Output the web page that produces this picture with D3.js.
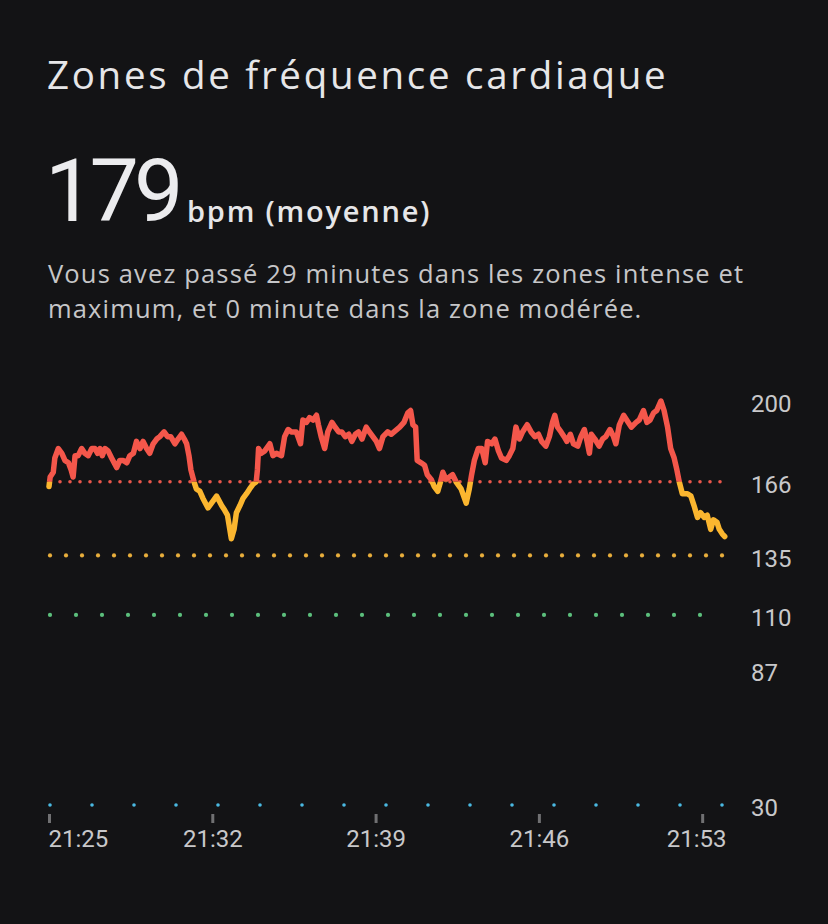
<!DOCTYPE html>
<html lang="fr">
<head>
<meta charset="utf-8">
<title>Zones de fréquence cardiaque</title>
<script src="https://cdn.jsdelivr.net/npm/d3@7"></script>
<style>
  html, body { margin: 0; padding: 0; background: #131315; }
  svg { display: block; }
</style>
</head>
<body>
<div id="chart"></div>
<script>
// ── Data ────────────────────────────────────────────────────────────────
var START_TIME = "21:25";
var END_SECONDS = 1740;

// seconds since 21:25, heart rate in bpm
var HR_SEC = [0, 3, 11, 15, 24, 33, 41, 50, 57, 62, 67, 75, 84, 92, 101, 110, 118, 125, 131, 137,
  144, 152, 161, 174, 182, 191, 200, 208, 217, 225, 234, 242, 251, 259, 268, 277, 285, 296, 305, 313,
  324, 332, 341, 348, 354, 360, 365, 373, 379, 388, 396, 409, 418, 431, 444, 452, 459, 465, 469, 476,
  482, 491, 499, 508, 516, 525, 533, 536, 539, 546, 555, 568, 576, 585, 598, 606, 615, 623, 636, 647,
  653, 662, 670, 679, 688, 693, 700, 709, 717, 728, 736, 745, 753, 762, 771, 779, 788, 796, 805, 816,
  824, 833, 842, 850, 859, 871, 880, 902, 913, 923, 930, 936, 943, 947, 957, 966, 973, 983, 991, 1000,
  1007, 1013, 1021, 1030, 1038, 1047, 1060, 1073, 1081, 1087, 1094, 1104, 1113, 1122, 1128, 1139, 1147, 1156, 1164, 1176,
  1184, 1193, 1201, 1210, 1218, 1230, 1240, 1250, 1259, 1267, 1278, 1287, 1295, 1301, 1308, 1317, 1325, 1332, 1341, 1349,
  1360, 1368, 1377, 1384, 1390, 1395, 1404, 1415, 1424, 1432, 1443, 1452, 1458, 1467, 1478, 1490, 1498, 1510, 1518, 1529,
  1538, 1546, 1555, 1563, 1574, 1582, 1591, 1599, 1608, 1615, 1621, 1629, 1642, 1651, 1659, 1668, 1676, 1685, 1693, 1702,
  1709, 1718, 1724, 1732, 1738];
var HR_BPM = [164, 168, 170, 176, 180, 178, 175, 174, 171, 168, 177, 177, 180, 178, 177, 180, 180, 178, 180, 177,
  180, 179, 176, 172, 175, 175, 174, 177, 178, 183, 180, 183, 180, 178, 182, 184, 185, 187, 185, 185,
  182, 184, 186, 184, 182, 177, 171, 166, 163, 162, 159, 155, 157, 160, 156, 154, 152, 146, 142, 146,
  153, 156, 159, 161, 163, 165, 166, 171, 180, 178, 179, 182, 177, 178, 177, 185, 188, 187, 187, 182,
  192, 191, 193, 192, 194, 190, 185, 180, 187, 191, 189, 187, 187, 185, 186, 183, 186, 187, 184, 189,
  187, 185, 183, 180, 185, 187, 186, 189, 191, 195, 196, 190, 189, 175, 174, 173, 169, 167, 164, 162,
  166, 170, 167, 168, 169, 166, 163, 157, 163, 169, 175, 180, 180, 174, 183, 182, 184, 179, 176, 175,
  177, 180, 189, 184, 187, 190, 187, 185, 186, 183, 181, 185, 191, 194, 189, 187, 185, 183, 186, 182,
  181, 185, 188, 183, 178, 186, 184, 181, 184, 185, 188, 185, 182, 190, 194, 191, 189, 191, 192, 196,
  191, 192, 195, 196, 200, 196, 189, 180, 176, 171, 166, 161, 161, 160, 156, 151, 153, 151, 152, 146,
  150, 149, 146, 144, 143];

// zone lower bounds (maximum, intense, modéré, échauffement)
var ZONE_LIMITS = [166, 135, 110, 30];
var ZONE_COLORS = ["#f4574b", "#fbb62f", "#5cbf7c", "#4ab9e2"];
var Y_TICKS = [200, 166, 135, 110, 87, 30];
var X_TICKS = ["21:25", "21:32", "21:39", "21:46", "21:53"];

var TITLE = "Zones de fréquence cardiaque";
var AVG_BPM = 179;
var AVG_LABEL = "bpm (moyenne)";
var SUMMARY = ["Vous avez passé 29 minutes dans les zones intense et",
               "maximum, et 0 minute dans la zone modérée."];

// ── Setup ───────────────────────────────────────────────────────────────
var W = 828, H = 924;
var FONT = "Roboto, 'Open Sans', sans-serif";
var HEAD_FONT = "'Open Sans', Roboto, sans-serif";

var svg = d3.select("#chart").append("svg")
  .attr("width", W).attr("height", H)
  .style("font-family", FONT);

svg.append("rect").attr("width", W).attr("height", H).attr("fill", "#131315");

// ── Header texts ────────────────────────────────────────────────────────
svg.append("text")
  .attr("x", 47).attr("y", 89)
  .attr("font-family", HEAD_FONT)
  .attr("font-size", "38.5px")
  .attr("letter-spacing", "2.7px")
  .attr("fill", "#e6e6e8")
  .text(TITLE);

svg.append("text")
  .attr("x", 45).attr("y", 221)
  .attr("font-size", "88px")
  .attr("letter-spacing", "-5px")
  .attr("fill", "#ececee")
  .text(AVG_BPM);

svg.append("text")
  .attr("x", 187).attr("y", 222)
  .attr("font-family", HEAD_FONT)
  .attr("font-size", "29px")
  .attr("font-weight", "600")
  .attr("letter-spacing", "1.8px")
  .attr("fill", "#e6e6e8")
  .text(AVG_LABEL);

svg.append("g").selectAll("text")
  .data(SUMMARY)
  .join("text")
  .attr("x", 48)
  .attr("y", function (d, i) { return 283 + i * 35; })
  .attr("font-family", HEAD_FONT)
  .attr("font-size", "25.5px")
  .attr("letter-spacing", "1.15px")
  .attr("fill", "#c6c6c8")
  .text(function (d) { return d; });

// ── Scales ──────────────────────────────────────────────────────────────
var parseHM = d3.timeParse("%H:%M");
var t0 = parseHM(START_TIME);
function toDate(sec) { return new Date(t0.getTime() + sec * 1000); }

var x = d3.scaleTime()
  .domain([t0, toDate(END_SECONDS)])
  .range([49, 725.5]);

var y = d3.scaleLinear()
  .domain([30, 200])
  .range([805, 401]);

var data = HR_SEC.map(function (s, i) { return { t: toDate(s), v: HR_BPM[i] }; });

// ── Zone dotted lines ───────────────────────────────────────────────────
var dotSpacing = [10, 16, 26, 42];
var dotRadius = [1.8, 2.1, 2.1, 1.8];
var dotColors = ["#e9564b", "#e8ae3c", "#5cbf7c", "#4ab9e2"];

ZONE_LIMITS.forEach(function (lim, i) {
  var xs = d3.range(50, 724, dotSpacing[i]);
  svg.append("g").attr("class", "zone-dots")
    .selectAll("circle")
    .data(xs)
    .join("circle")
    .attr("cx", function (d) { return d; })
    .attr("cy", y(lim))
    .attr("r", dotRadius[i])
    .attr("fill", dotColors[i]);
});

// ── Axes ────────────────────────────────────────────────────────────────
var yAxis = svg.append("g")
  .attr("transform", "translate(751,3)")
  .call(d3.axisRight(y).tickValues(Y_TICKS).tickSize(0).tickPadding(0));
yAxis.select(".domain").remove();
yAxis.selectAll("text")
  .attr("font-family", FONT)
  .attr("font-size", "24px")
  .attr("fill", "#c8c8ca");

var xAxis = svg.append("g")
  .attr("transform", "translate(0,814)")
  .call(d3.axisBottom(x)
    .tickValues(X_TICKS.map(parseHM))
    .tickFormat(d3.timeFormat("%H:%M"))
    .tickSize(9).tickPadding(7));
xAxis.select(".domain").remove();
xAxis.selectAll(".tick line")
  .attr("stroke", "#707072")
  .attr("stroke-width", 3);
xAxis.selectAll("text")
  .attr("font-family", FONT)
  .attr("font-size", "24px")
  .attr("fill", "#c8c8ca")
  .each(function (d) {
    // keep labels within the plot span, like the app does
    var tx = x(d), bb = this.getBBox();
    var left = tx + bb.x, right = left + bb.width;
    var lo = 48, hi = 726;
    if (left < lo) d3.select(this).attr("x", lo - left);
    else if (right > hi) d3.select(this).attr("x", hi - right);
  });

// ── Heart-rate line, coloured by zone ───────────────────────────────────
var line = d3.line()
  .x(function (d) { return x(d.t); })
  .y(function (d) { return y(d.v); })
  .curve(d3.curveLinear);

var defs = svg.append("defs");
var bands = ZONE_LIMITS.map(function (lim, i) {
  var top = i === 0 ? 0 : y(ZONE_LIMITS[i - 1]);
  var bottom = i === ZONE_LIMITS.length - 1 ? H : y(lim);
  return { top: top, bottom: bottom, color: ZONE_COLORS[i], id: "zone-clip-" + i };
});

bands.forEach(function (b) {
  defs.append("clipPath").attr("id", b.id)
    .append("rect")
    .attr("x", 0).attr("y", b.top)
    .attr("width", W).attr("height", b.bottom - b.top);
});

svg.append("g").attr("class", "hr-line")
  .selectAll("path")
  .data(bands)
  .join("path")
  .attr("clip-path", function (b) { return "url(#" + b.id + ")"; })
  .attr("d", line(data))
  .attr("fill", "none")
  .attr("stroke", function (b) { return b.color; })
  .attr("stroke-width", 5.5)
  .attr("stroke-linejoin", "round")
  .attr("stroke-linecap", "round");
</script>
</body>
</html>
